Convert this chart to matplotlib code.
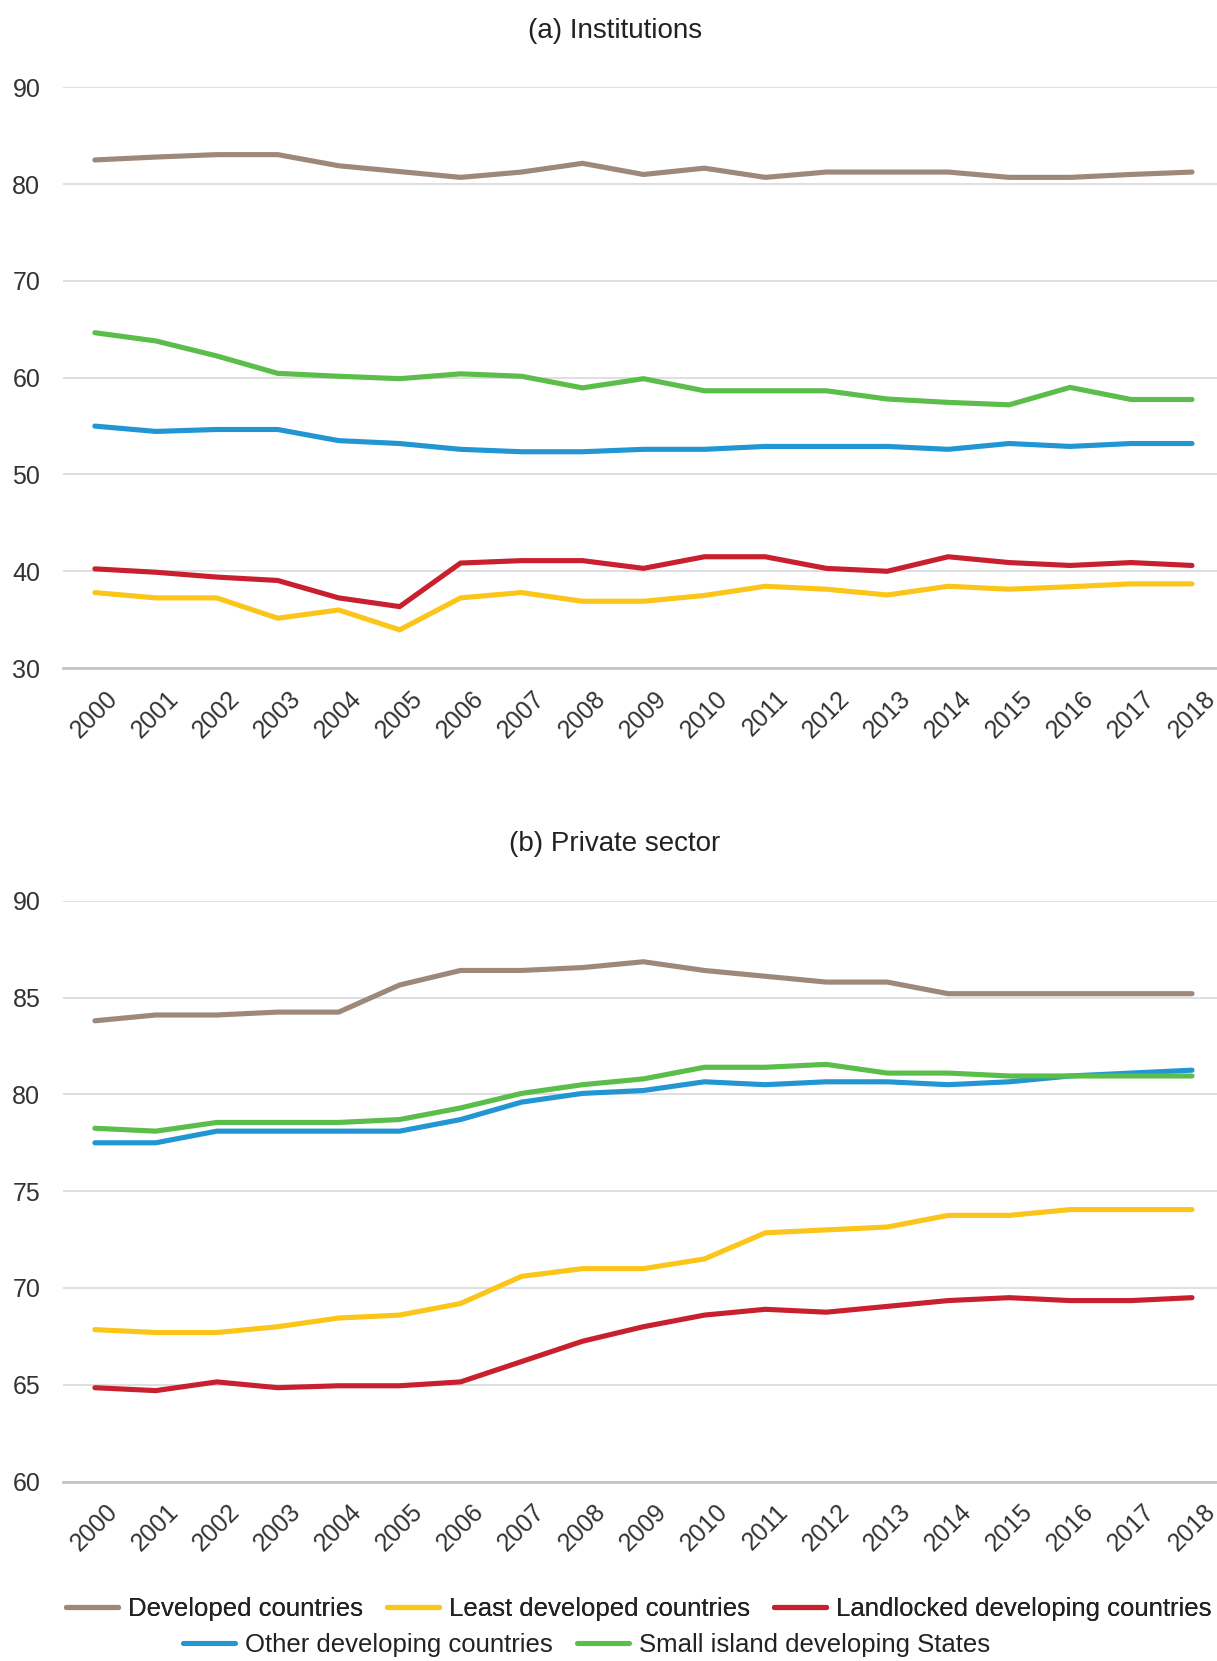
import matplotlib
matplotlib.use("Agg")
import matplotlib.pyplot as plt
from matplotlib.lines import Line2D

plt.rcParams['font.family'] = ['Liberation Sans', 'DejaVu Sans']

years = [str(y) for y in range(2000, 2019)]

series_names = [
    "Developed countries",
    "Least developed countries",
    "Landlocked developing countries",
    "Other developing countries",
    "Small island developing States",
]
series_colors = ["#9E887A", "#FBC51A", "#C8202F", "#2196D3", "#5BBD4A"]

# (a) Institutions
inst_developed = [82.5, 82.8, 83.05, 83.05, 81.9, 81.3, 80.7, 81.25, 82.15, 81.0,
                  81.65, 80.7, 81.25, 81.25, 81.25, 80.7, 80.7, 81.0, 81.25]
inst_least = [37.8, 37.25, 37.25, 35.15, 36.0, 33.95, 37.25, 37.8, 36.9, 36.9,
              37.5, 38.45, 38.15, 37.55, 38.45, 38.15, 38.4, 38.7, 38.7]
inst_landlocked = [40.25, 39.9, 39.4, 39.05, 37.25, 36.35, 40.85, 41.1, 41.1, 40.3,
                   41.5, 41.5, 40.3, 40.0, 41.5, 40.9, 40.6, 40.9, 40.6]
inst_other = [55.0, 54.45, 54.65, 54.65, 53.5, 53.2, 52.6, 52.35, 52.35, 52.6,
              52.6, 52.9, 52.9, 52.9, 52.6, 53.2, 52.9, 53.2, 53.2]
inst_sids = [64.65, 63.8, 62.25, 60.45, 60.15, 59.9, 60.4, 60.15, 58.95, 59.9,
             58.65, 58.65, 58.65, 57.8, 57.45, 57.2, 59.0, 57.75, 57.75]

# (b) Private sector
priv_developed = [83.8, 84.1, 84.1, 84.25, 84.25, 85.65, 86.4, 86.4, 86.55, 86.85,
                  86.4, 86.1, 85.8, 85.8, 85.2, 85.2, 85.2, 85.2, 85.2]
priv_least = [67.85, 67.7, 67.7, 68.0, 68.45, 68.6, 69.2, 70.6, 71.0, 71.0,
              71.5, 72.85, 73.0, 73.15, 73.75, 73.75, 74.05, 74.05, 74.05]
priv_landlocked = [64.85, 64.7, 65.15, 64.85, 64.95, 64.95, 65.15, 66.2, 67.25, 68.0,
                   68.6, 68.9, 68.75, 69.05, 69.35, 69.5, 69.35, 69.35, 69.5]
priv_other = [77.5, 77.5, 78.1, 78.1, 78.1, 78.1, 78.7, 79.6, 80.05, 80.2,
              80.65, 80.5, 80.65, 80.65, 80.5, 80.65, 80.95, 81.1, 81.25]
priv_sids = [78.25, 78.1, 78.55, 78.55, 78.55, 78.7, 79.3, 80.05, 80.5, 80.8,
             81.4, 81.4, 81.55, 81.1, 81.1, 80.95, 80.95, 80.95, 80.95]

inst_ticks = [30, 40, 50, 60, 70, 80, 90]
priv_ticks = [60, 65, 70, 75, 80, 85, 90]

panels = [
    ("(a) Institutions", [inst_developed, inst_least, inst_landlocked, inst_other, inst_sids],
     inst_ticks, [0.0514, 0.5978, 0.9486, 0.3496], 0.9815),
    ("(b) Private sector", [priv_developed, priv_least, priv_landlocked, priv_other, priv_sids],
     priv_ticks, [0.0514, 0.1080, 0.9486, 0.3497], 0.4921),
]

fig = plt.figure(figsize=(12.17, 16.61), dpi=100)
x = list(range(len(years)))

for title, data, ticks, rect, title_y in panels:
    ax = fig.add_axes(rect)
    for vals, color in zip(data, series_colors):
        ax.plot(x, vals, color=color, lw=3.7, solid_capstyle='round',
                solid_joinstyle='miter', zorder=3)
    ax.set_ylim(ticks[0], ticks[-1])
    ax.set_yticks(ticks)
    ax.set_xlim(-0.53, 18.41)
    ax.set_xticks(x)
    ax.set_xticklabels(years, rotation=45, ha='center', va='top')
    ax.grid(axis='y', color='#D6D6D6', lw=1.1, zorder=0)
    ax.grid(axis='x', visible=False)
    for side in ['top', 'right', 'left']:
        ax.spines[side].set_visible(False)
    ax.spines['bottom'].set_color('#C4C4C4')
    ax.spines['bottom'].set_linewidth(2.0)
    ax.tick_params(axis='y', length=0, labelsize=18, labelcolor='#333333', pad=16)
    ax.tick_params(axis='x', length=0, labelsize=17.8, labelcolor='#333333', pad=13)
    ax.set_facecolor('white')
    fig.text(0.505, title_y, title, ha='center', va='center', fontsize=20, color='#222222')

handles = [Line2D([0], [0], color=c, lw=3.7, solid_capstyle='round') for c in series_colors]
common = dict(frameon=False, fontsize=18.5, handlelength=2.0, handletextpad=0.4,
              columnspacing=0.95, labelcolor='#222222', loc='center')
leg1 = fig.legend(handles[:3], series_names[:3], ncol=3,
                  bbox_to_anchor=(0.525, 1 - 1609 / 1661), **common)
fig.add_artist(leg1)
fig.legend(handles[3:], series_names[3:], ncol=2,
           bbox_to_anchor=(0.482, 1 - 1645 / 1661), **common)

fig.savefig("out.png", dpi=100, facecolor='white')
